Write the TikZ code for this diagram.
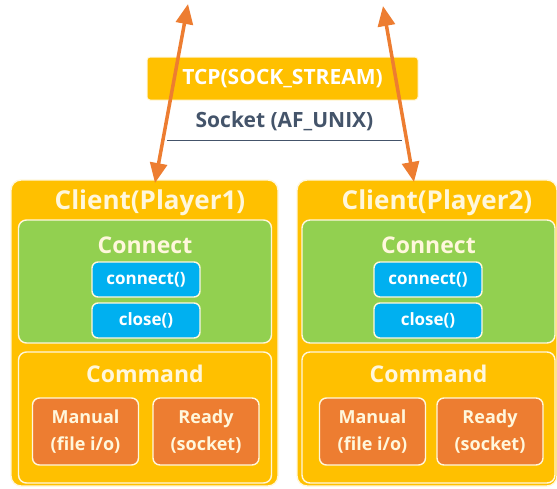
\documentclass[tikz,border=0pt]{standalone}
\usepackage{fontspec}
\setmainfont{Open Sans}
\usetikzlibrary{arrows.meta}

\definecolor{gold}{HTML}{FFC000}
\definecolor{leaf}{HTML}{92D050}
\definecolor{sky}{HTML}{00B0F0}
\definecolor{rust}{HTML}{ED7D31}
\definecolor{slate}{HTML}{44546A}
\definecolor{cream}{HTML}{FFF7DC}

\begin{document}
\begin{tikzpicture}[x=1pt,y=-1pt,
    box/.style    = {draw=cream, line width=1.4pt, inner sep=0pt},
    client/.style = {box, fill=gold, rounded corners=10pt,
      minimum width=#1, minimum height=306pt},
    connbox/.style = {box, fill=leaf, rounded corners=8pt,
      minimum width=253pt, minimum height=123pt},
    cmdbox/.style  = {box, fill=gold, rounded corners=8pt,
      minimum width=253pt, minimum height=131pt},
    call/.style   = {box, fill=sky, rounded corners=6pt,
      minimum width=108pt, minimum height=35pt,
      text=white, font=\bfseries\fontsize{17}{20}\selectfont},
    mode/.style   = {box, fill=rust, rounded corners=7pt,
      minimum width=106pt, minimum height=67pt, align=center,
      text=cream, font=\bfseries\fontsize{18}{27}\selectfont},
    title/.style  = {text=cream, font=\bfseries\fontsize{26}{28}\selectfont},
    head/.style   = {text=cream, font=\bfseries\fontsize{23}{26}\selectfont},
    link/.style   = {draw=rust, line width=3.5pt,
      {Triangle[length=20pt,width=17pt]}-{Triangle[length=20pt,width=17pt]}},
  ]
  \useasboundingbox (0,0) rectangle (557,488);

  % socket layer
  \node[fill=gold, rounded corners=3pt, draw=cream, line width=1pt,
    minimum width=271pt, minimum height=43pt, text=white,
    font=\bfseries\fontsize{21}{24}\selectfont] (tcp) at (282.5,78.5) {TCP(SOCK\_STREAM)};
  \node[minimum width=235pt, minimum height=38pt, text=slate,
    font=\bfseries\fontsize{21}{24}\selectfont] (sock) at (284.5,121) {Socket (AF\_UNIX)};
  \draw[slate, line width=0.6pt] (sock.south west) -- (sock.south east);

  % player 1
  \node[client=267pt] (cl1) at (144.5,333) {};
  \node[title] (cl1t) at (150,203) {Client(Player1)};
  \node[connbox] (con1) at (145,281.5) {};
  \node[head] (con1t) at (145,245) {Connect};
  \node[call] (cn1) at (146,279.5) {connect()};
  \node[call] (cs1) at (146,320.5) {close()};
  \node[cmdbox] (cmd1) at (145,417.5) {};
  \node[head] (cmd1t) at (145,374) {Command};
  \node[mode] (man1) at (85.5,431.5) {Manual\\(file i/o)};
  \node[mode] (rdy1) at (206,431.5) {Ready\\(socket)};

  % player 2
  \node[client=260pt] (cl2) at (427,333) {};
  \node[title] (cl2t) at (437,203) {Client(Player2)};
  \node[connbox] (con2) at (428.5,281.5) {};
  \node[head] (con2t) at (428.5,245) {Connect};
  \node[call] (cn2) at (428,279.5) {connect()};
  \node[call] (cs2) at (428,320.5) {close()};
  \node[cmdbox] (cmd2) at (428.5,417.5) {};
  \node[head] (cmd2t) at (428.5,374) {Command};
  \node[mode] (man2) at (372.5,431.5) {Manual\\(file i/o)};
  \node[mode] (rdy2) at (490,431.5) {Ready\\(socket)};

  % links
  \coordinate (up1) at (188,4);
  \coordinate (up2) at (383,6);
  \coordinate (dn1) at (155,183);
  \coordinate (dn2) at (414,182);
  \draw[link] (up1) -- (dn1);
  \draw[link] (up2) -- (dn2);
\end{tikzpicture}
\end{document}
